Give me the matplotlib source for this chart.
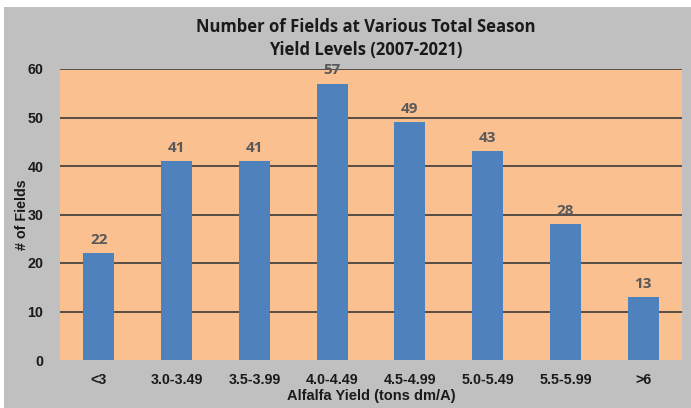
import matplotlib
matplotlib.use("Agg")
import matplotlib.pyplot as plt
from matplotlib.patches import Rectangle
import numpy as np

# data
categories = ["<3", "3.0-3.49", "3.5-3.99", "4.0-4.49", "4.5-4.99", "5.0-5.49", "5.5-5.99", ">6"]
fields = [22, 41, 41, 57, 49, 43, 28, 13]
yticks = [0, 10, 20, 30, 40, 50, 60]

W, H = 691, 408
fig = plt.figure(figsize=(W/100, H/100), dpi=100)
fig.patch.set_facecolor("white")
# grey chart area, white strips on top and left
fig.patches.append(Rectangle((4/W, 0), 1 - 4/W, 1 - 7/H, transform=fig.transFigure,
                             facecolor="#C0C0C0", edgecolor="none", zorder=-10))

ax = fig.add_axes([60/W, 1 - 360/H, (682-60)/W, (360-69)/H])
ax.set_facecolor("#FAC090")
x = np.arange(len(categories))
ax.bar(x, fields, width=0.4, color="#4F81BD", zorder=3)
for xi, v in zip(x, fields):
    ax.text(xi, v + 1.3, str(v), ha="center", va="bottom", fontsize=11,
            fontweight="bold", color="#595959", family="Open Sans", zorder=4)

ax.set_xlim(-0.5, len(categories) - 0.5)
ax.set_ylim(0, 60)
ax.set_yticks(yticks)
for t in yticks[1:]:
    ax.axhline(t, color="#3a3a3a", lw=1.2, zorder=2)
ax.set_xticks(x)
ax.set_xticklabels(categories)
for s in ax.spines.values():
    s.set_visible(False)
ax.tick_params(length=0, labelsize=10.3, colors="#1a1a1a", pad=9)
for lab in ax.get_xticklabels() + ax.get_yticklabels():
    lab.set_fontweight("bold")
    lab.set_family("Liberation Sans")
ax.tick_params(axis="y", pad=12)

fig.text(0.53, 1 - 27/H, "Number of Fields at Various Total Season", ha="center", va="center",
         fontsize=12, fontweight="bold", family="Open Sans", color="#1a1a1a")
fig.text(0.53, 1 - 50/H, "Yield Levels (2007-2021)", ha="center", va="center",
         fontsize=12, fontweight="bold", family="Open Sans", color="#1a1a1a")
fig.text(22/W, 1 - 215/H, "# of Fields", rotation=90, ha="center", va="center",
         fontsize=10.3, fontweight="bold", family="Liberation Sans", color="#1a1a1a")
fig.text(371/W, 1 - 396/H, "Alfalfa Yield (tons dm/A)", ha="center", va="center",
         fontsize=10.5, fontweight="bold", family="Liberation Sans", color="#1a1a1a")

fig.savefig("out.png", dpi=100)
